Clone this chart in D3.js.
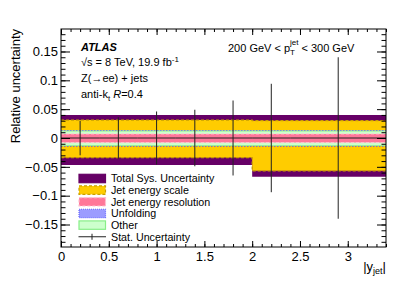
<!DOCTYPE html>
<html>
<head>
<meta charset="utf-8">
<script src="https://cdn.jsdelivr.net/npm/d3@7"></script>
<style>
  body { margin: 0; background: #fff; }
  text { font-family: "Liberation Sans", Arial, Helvetica, sans-serif; }
</style>
</head>
<body>
<div id="chart"></div>
<script>
// bins in |y_jet| and relative uncertainties
var binEdges = [0, 0.4, 0.8, 1.2, 1.6, 2.0, 2.4, 3.4];
var binCenters = [0.2, 0.6, 1.0, 1.4, 1.8, 2.2, 2.9];
var statErr = [0.030, 0.036, 0.046, 0.049, 0.065, 0.094, 0.140];
var totalUp = [0.040, 0.040, 0.040, 0.040, 0.040, 0.040, 0.040];
var totalDown = [-0.047, -0.047, -0.047, -0.047, -0.047, -0.067, -0.067];
var jesUp = [0.031, 0.031, 0.031, 0.031, 0.031, 0.030, 0.030];
var jesDown = [-0.034, -0.034, -0.034, -0.034, -0.034, -0.057, -0.057];
var unfoldUp = [0.013, 0.013, 0.013, 0.013, 0.013, 0.013, 0.013];
var unfoldDown = [-0.014, -0.014, -0.014, -0.014, -0.014, -0.014, -0.014];
var otherUp = [0.012, 0.012, 0.012, 0.012, 0.012, 0.012, 0.012];
var otherDown = [-0.013, -0.013, -0.013, -0.013, -0.013, -0.013, -0.013];
var jerUp = [0.007, 0.007, 0.007, 0.007, 0.007, 0.007, 0.007];
var jerDown = [-0.008, -0.008, -0.008, -0.008, -0.008, -0.008, -0.008];

var xMajor = [0, 0.5, 1, 1.5, 2, 2.5, 3];
var yMajor = [-0.15, -0.1, -0.05, 0, 0.05, 0.1, 0.15];

var legendItems = [
  {label: "Total Sys. Uncertainty", fill: "#660066", stroke: "none", dash: null},
  {label: "Jet energy scale", fill: "#ffcc00", stroke: "#c8a000", dash: "3,2"},
  {label: "Jet energy resolution", fill: "#ff7799", stroke: "#ffc0d0", dash: "3,2"},
  {label: "Unfolding", fill: "#9c9cff", stroke: "#6666ff", dash: "1,1"},
  {label: "Other", fill: "#ccffcc", stroke: "#88ee88", dash: null},
  {label: "Stat. Uncertainty", stat: true}
];

var W = 407, H = 292;
var pLeft = 61, pRight = 386, pTop = 29, pBottom = 247;

var svg = d3.select("#chart").append("svg")
    .attr("width", W).attr("height", H)
    .style("background", "#fff");

var x = d3.scaleLinear().domain([0, 3.4]).range([pLeft, pRight]);
var y = d3.scaleLinear().domain([-0.189, 0.189]).range([pBottom, pTop]);

// stepped band helper
function stepPoints(lo, hi) {
  var pts = binEdges.slice(0, -1).map(function(e, i) { return {x: e, lo: lo[i], hi: hi[i]}; });
  var n = lo.length - 1;
  pts.push({x: binEdges[binEdges.length - 1], lo: lo[n], hi: hi[n]});
  return pts;
}

var area = d3.area()
    .x(function(d) { return x(d.x); })
    .y0(function(d) { return y(d.lo); })
    .y1(function(d) { return y(d.hi); })
    .curve(d3.curveStepAfter);
var lineHi = d3.line().x(function(d) { return x(d.x); }).y(function(d) { return y(d.hi); }).curve(d3.curveStepAfter);
var lineLo = d3.line().x(function(d) { return x(d.x); }).y(function(d) { return y(d.lo); }).curve(d3.curveStepAfter);

function band(lo, hi, fill, stroke, dash, width) {
  var pts = stepPoints(lo, hi);
  svg.append("path").attr("d", area(pts)).attr("fill", fill);
  if (stroke) {
    [lineHi, lineLo].forEach(function(l) {
      svg.append("path").attr("d", l(pts))
        .attr("fill", "none")
        .attr("stroke", stroke)
        .attr("stroke-width", width || 1)
        .attr("stroke-dasharray", dash);
    });
  }
}

band(totalDown, totalUp, "#660066", null);
band(jesDown, jesUp, "#ffcc00", "#c8a000", "3,2", 1.2);
band(unfoldDown, unfoldUp, "#b8b8ff", "#5555ff", "1.5,1.5", 1.2);
band(otherDown, otherUp, "#ccffcc", "#99ee99", null, 1);
band(jerDown, jerUp, "#ff7799", "#ffc0d0", "3,2", 1);

// stat uncertainty: horizontal bin width at zero + vertical error
var stat = svg.append("g").attr("stroke", "#222").attr("stroke-width", 1);
stat.selectAll(".hbar").data(binCenters).enter().append("line")
    .attr("x1", function(d, i) { return x(binEdges[i]); })
    .attr("x2", function(d, i) { return x(binEdges[i + 1]); })
    .attr("y1", y(0)).attr("y2", y(0));
stat.selectAll(".vbar").data(binCenters).enter().append("line")
    .attr("x1", function(d) { return x(d); })
    .attr("x2", function(d) { return x(d); })
    .attr("y1", function(d, i) { return y(statErr[i]); })
    .attr("y2", function(d, i) { return y(-statErr[i]); });

// axes
var fmt = function(d) { return d === 0 ? "0" : (d < 0 ? "\u2212" : "") + String(Math.abs(d)); };
var xMinor = d3.range(0, 35).map(function(i) { return i / 10; });
var yMinor = d3.range(-18, 19).map(function(i) { return i / 100; });

function styleAxis(g) {
  g.select(".domain").remove();
  g.selectAll("line").attr("stroke", "#000");
  g.selectAll("text").attr("fill", "#000").style("font-size", "13px")
    .style("font-family", "Liberation Sans, Arial, sans-serif");
}

svg.append("g").attr("transform", "translate(0," + pBottom + ")")
  .call(d3.axisBottom(x).tickValues(xMajor).tickSize(-6).tickPadding(5).tickFormat(fmt)).call(styleAxis);
svg.append("g").attr("transform", "translate(0," + pBottom + ")")
  .call(d3.axisBottom(x).tickValues(xMinor).tickSize(-3).tickFormat("")).call(styleAxis);
svg.append("g").attr("transform", "translate(0," + pTop + ")")
  .call(d3.axisTop(x).tickValues(xMajor).tickSize(-6).tickFormat("")).call(styleAxis);
svg.append("g").attr("transform", "translate(0," + pTop + ")")
  .call(d3.axisTop(x).tickValues(xMinor).tickSize(-3).tickFormat("")).call(styleAxis);

svg.append("g").attr("transform", "translate(" + pLeft + ",0)")
  .call(d3.axisLeft(y).tickValues(yMajor).tickSize(-9).tickPadding(3).tickFormat(fmt)).call(styleAxis);
svg.append("g").attr("transform", "translate(" + pLeft + ",0)")
  .call(d3.axisLeft(y).tickValues(yMinor).tickSize(-4.5).tickFormat("")).call(styleAxis);
svg.append("g").attr("transform", "translate(" + pRight + ",0)")
  .call(d3.axisRight(y).tickValues(yMajor).tickSize(-9).tickFormat("")).call(styleAxis);
svg.append("g").attr("transform", "translate(" + pRight + ",0)")
  .call(d3.axisRight(y).tickValues(yMinor).tickSize(-4.5).tickFormat("")).call(styleAxis);

svg.append("rect")
    .attr("x", pLeft).attr("y", pTop)
    .attr("width", pRight - pLeft).attr("height", pBottom - pTop)
    .attr("fill", "none").attr("stroke", "#000").attr("stroke-width", 1);

// axis titles
svg.append("text")
    .attr("transform", "translate(20," + pTop + ") rotate(-90)")
    .attr("text-anchor", "end")
    .style("font-size", "13px")
    .text("Relative uncertainty");

var xt = svg.append("text").attr("x", pRight).attr("y", 271)
    .attr("text-anchor", "end").style("font-size", "13px");
xt.append("tspan").text("|y");
xt.append("tspan").attr("dy", 3).style("font-size", "9px").text("jet");
xt.append("tspan").attr("dy", -3).text("|");

// labels
var lab = svg.append("g").style("font-size", "11px");
lab.append("text").attr("x", 81).attr("y", 51)
    .style("font-weight", "bold").style("font-style", "italic").text("ATLAS");
var t2 = lab.append("text").attr("x", 81).attr("y", 66);
t2.append("tspan").text("\u221As = 8 TeV, 19.9 fb");
t2.append("tspan").attr("dy", -4).style("font-size", "8px").text("-1");
lab.append("text").attr("x", 81).attr("y", 82).text("Z(\u2192ee) + jets");
var t4 = lab.append("text").attr("x", 81).attr("y", 98);
t4.append("tspan").text("anti-k");
t4.append("tspan").attr("dy", 3).style("font-size", "8px").text("t");
t4.append("tspan").attr("dy", -3).text(" ");
t4.append("tspan").style("font-style", "italic").text("R");
t4.append("tspan").text("=0.4");

var t5 = lab.append("text").attr("x", 228).attr("y", 52);
t5.append("tspan").text("200 GeV < p");
t5.append("tspan").attr("dy", 3).style("font-size", "8px").text("T");
t5.append("tspan").attr("dx", -5).attr("dy", -10).style("font-size", "8px").text("jet");
t5.append("tspan").attr("dy", 7).text(" < 300 GeV");

// legend
var leg = svg.append("g").style("font-size", "10.7px");
legendItems.forEach(function(it, i) {
  var cy = 178.5 + i * 11.65;
  if (it.stat) {
    leg.append("line").attr("x1", 78.5).attr("x2", 106).attr("y1", cy).attr("y2", cy)
      .attr("stroke", "#222");
    leg.append("line").attr("x1", 92).attr("x2", 92).attr("y1", cy - 3).attr("y2", cy + 3)
      .attr("stroke", "#222");
  } else {
    leg.append("rect").attr("x", 79).attr("y", cy - 4.2).attr("width", 26.5).attr("height", 8.4)
      .attr("fill", it.fill)
      .attr("stroke", it.stroke === "none" ? it.fill : it.stroke)
      .attr("stroke-width", 1.2)
      .attr("stroke-dasharray", it.dash);
  }
  leg.append("text").attr("x", 111).attr("y", cy).attr("dy", "0.36em").text(it.label);
});
</script>
</body>
</html>
